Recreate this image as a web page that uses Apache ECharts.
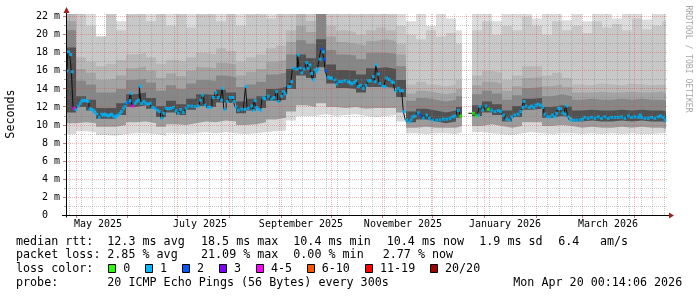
<!DOCTYPE html>
<html><head><meta charset="utf-8">
<script src="https://cdn.jsdelivr.net/npm/echarts@6/dist/echarts.min.js"></script>
<style>html,body{margin:0;padding:0;background:#fff}#c{width:697px;height:297px}</style>
</head><body><div id="c"></div>
<script>
// ---------- axis data (x = days since 2025-04-25 00:14, 360-day window) ----------
const X_MIN_DAY = 0, X_MAX_DAY = 360;
const Y_MAX_MS = 22.3;
const monthStartDay = [6, 37, 67, 98, 129, 159, 190, 220, 251, 282, 310, 341];
const monthLabelDay = [19.2, 80.4, 141, 202.2, 263.4, 325.2];
const monthLabelText = ['May 2025', 'July 2025', 'September 2025', 'November 2025', 'January 2026', 'March 2026'];
const firstSundayDay = 2;
const yGridValues = [1,2,3,4,5,6,7,8,9,10,11,12,13,14,15,16,17,18,19,20,21,22];

// ---------- median rtt (ms) and loss (of 20 pings) ----------
const medianDay = [0.6,1.5,2.8,3.7,4.8,6.0,7.4,8.4,9.4,10.4,11.4,12.4,13.2,14.4,15.4,16.4,17.4,18.4,20.0,21.4,22.4,23.4,24.4,25.4,26.4,27.4,28.4,29.4,30.4,31.4,32.4,33.4,34.4,35.4,36.4,37.4,38.4,39.0,40.0,41.4,42.4,43.4,44.6,45.4,46.8,48.0,49.2,50.4,52.0,53.4,54.8,56.0,57.4,58.8,60.0,61.4,62.8,64.4,66.0,67.4,68.8,70.4,72.0,73.4,75.4,77.4,79.4,80.8,82.0,83.4,85.4,86.7,88.4,90.0,91.4,93.4,94.0,95.4,96.8,98.4,100.0,100.8,102.0,103.4,105.4,107.4,108.0,109.4,111.4,112.4,113.4,114.4,115.4,116.8,118.4,119.4,121.4,123.4,124.8,126.4,127.4,129.4,130.4,131.4,133.4,134.4,135.4,136.4,138.4,139.4,140.4,141.4,142.8,144.4,145.4,146.4,147.4,148.4,149.4,150.4,151.4,152.4,153.4,154.4,155.1,156.0,157.4,158.4,159.4,161.4,162.4,164.0,165.6,167.4,169.4,170.4,171.4,172.8,174.0,175.4,176.8,178.4,180.0,181.4,182.8,184.4,185.4,186.4,187.4,188.4,190.0,191.4,192.4,194.0,195.4,196.4,198.0,199.4,200.7,202.0,202.8,204.4,206.0,207.0,208.0,209.4,211.4,212.8,214.4,216.4,218.0,220.0,222.4,224.4,226.4,228.4,230.4,232.0,233.4,235.4,236.8,238.5,244.4,246.0,247.4,248.4,250.0,252.0,253.4,255.4,257.4,259.4,260.8,262.4,264.4,266.0,267.4,269.4,271.4,272.8,274.0,274.8,276.0,278.0,279.4,280.8,282.0,283.4,284.8,286.0,287.4,288.8,290.4,292.0,293.4,294.4,295.4,296.7,298.0,299.4,300.4,301.4,302.8,304.5,306.4,308.4,310.0,311.4,313.4,315.4,317.4,319.4,321.4,323.4,325.4,327.4,329.4,331.4,333.4,335.4,337.4,339.4,341.4,343.4,344.4,345.4,347.4,349.4,351.4,353.4,355.4,356.8,358.4,359.4];
const medianMs = [16.0,18.1,17.8,15.9,11.85,11.7,12.1,12.4,12.65,12.75,12.7,12.7,12.6,11.8,11.7,11.65,11.4,11.2,10.85,11.2,11.1,11.2,11.1,11.0,11.1,11.2,11.0,10.85,11.0,11.1,11.3,11.5,11.85,12.1,12.5,12.5,12.7,13.5,12.1,12.4,12.6,12.75,14.3,12.4,12.6,12.4,12.3,12.4,11.95,11.85,11.65,11.5,10.75,11.3,11.85,11.8,11.85,11.95,11.6,11.3,11.7,11.4,11.85,12.1,12.1,12.05,12.1,12.75,13.3,12.2,11.95,11.95,13.05,13.6,13.05,12.75,14.05,11.75,12.6,13.05,13.05,12.6,12.0,11.65,11.75,11.75,14.25,11.85,12.1,11.6,12.7,11.95,11.75,11.65,13.0,12.9,13.2,12.85,13.05,13.7,12.6,13.2,13.7,13.45,14.25,14.25,14.8,16.3,16.2,17.75,16.3,15.8,16.2,16.9,16.3,16.65,15.7,15.0,16.1,15.9,16.2,17.3,18.4,18.1,17.3,16.0,15.3,15.2,15.2,15.0,14.55,14.8,14.8,14.9,14.8,14.7,14.55,14.7,14.9,14.25,14.4,14.05,14.4,14.9,14.9,15.35,14.8,16.65,15.65,14.6,14.3,14.25,15.2,15.05,14.8,14.7,13.8,14.05,13.8,13.8,11.5,10.55,10.35,10.6,10.9,11.0,11.35,11.1,10.75,11.1,10.75,10.55,10.55,10.55,10.65,10.65,10.7,10.9,11.0,11.6,11.0,null,11.3,11.0,11.1,12.05,11.65,12.1,11.75,11.65,11.5,11.6,11.5,11.1,10.65,10.55,10.9,11.1,11.2,11.5,11.95,12.6,12.1,11.95,12.1,11.95,12.2,12.3,12.2,11.95,11.2,10.9,10.9,11.1,10.9,11.3,11.85,11.8,11.35,11.2,12.1,10.9,10.55,10.55,10.55,10.55,10.65,10.85,10.75,10.85,10.75,10.9,10.75,10.9,10.75,10.85,10.85,10.85,10.9,10.75,11.0,10.85,10.9,10.85,11.1,10.85,10.75,10.75,10.85,10.75,10.9,11.0,10.85,10.55];
const medianLoss = [1,1,1,1,5,1,1,1,1,1,1,1,1,1,1,1,1,1,1,1,1,1,1,1,1,1,1,1,1,1,1,1,1,1,1,2,1,1,4,1,1,1,1,1,1,1,1,1,1,1,1,1,1,1,1,1,1,1,1,1,1,1,1,1,1,1,1,1,1,1,1,1,1,1,1,1,1,1,1,1,1,1,1,1,1,1,1,1,1,1,1,1,1,1,1,1,1,1,1,1,1,1,1,1,1,1,1,1,1,1,1,1,1,1,1,1,1,1,1,1,1,1,2,1,2,2,1,1,1,1,1,1,1,1,1,1,1,1,1,1,1,1,1,1,1,1,1,1,1,1,1,1,1,1,1,1,1,1,1,1,1,1,1,1,1,1,1,2,1,1,1,1,1,1,1,1,1,1,1,1,0,1,null,0,1,1,1,1,0,1,1,1,1,1,1,1,1,1,1,1,1,1,1,1,1,1,1,1,1,1,1,1,1,1,1,1,1,1,1,1,1,1,1,1,1,1,1,1,1,1,1,1,1,1,1,1,1,1,1,1,1,1,1,1,1,1,1,1,1,1,1,1,1,1,1,1];

// ---------- smoke (ping spread) band boundaries, ms, per column starting at smokeDay ----------
const smokeDay = [0,6,12,18,24,30,36,42,48,54,60,66,72,78,84,90,96,102,108,114,120,126,132,138,144,150,156,162,168,174,180,186,192,198,204,210,216,222,228,234,237.6,243.6,249.6,255.6,261.6,267.6,273.6,279.6,285.6,291.6,297.6,303.6,309.6,315.6,321.6,327.6,333.6,339.6,345.6,351.6,357.6];
const smokeLo  = [9.0,9.3,9.2,8.9,8.8,9.0,9.1,9.1,9.0,8.8, 9.1,9.0,9.1,9.2,9.1,9.2,9.1,9.0,9.1,9.2, 9.3,9.4,10.5,11.0,11.0,11.2,11.0,11.1,11.2,11.0, 10.9,11.0,11.1,10.4,9.1,9.0,9.1,9.1,9.0,9.2, 0, 9.2,9.1,9.0,8.9,9.1,9.2,9.1,9.0,9.1,9.1, 9.0,9.1,9.0,9.1,9.0,9.1,9.0,9.0,9.1,9.1];
const smokeL2  = [10.2,10.3,10.2,9.8,9.8,10.0,10.3,10.4,10.2,9.8, 10.1,10.0,10.2,10.4,10.3,10.5,10.4,10.0,10.1,10.3, 10.6,10.8,11.5,12.2,12.0,12.4,12.0,11.9,12.0,11.8, 11.9,11.9,11.9,11.4,9.7,9.8,9.7,9.7,9.7,9.9, 0, 9.9,10.1,9.9,9.7,9.9,10.3,10.3,9.9,10.0,9.9, 9.7,9.8,9.7,9.7,9.8,9.7,9.8,9.7,9.7,9.6];
const smokeCLo = [11.4,12.0,11.6,10.7,10.7,11.1,12.0,12.2,11.8,10.9, 11.4,11.1,11.7,12.1,12.0,12.5,12.4,11.3,11.6,11.9, 12.7,12.8,14.0,15.5,15.2,16.4,14.6,14.1,14.0,13.6, 14.2,14.2,14.1,13.1,10.3,10.6,10.4,10.2,10.4,10.8, 0, 11.0,11.4,11.1,10.4,10.9,11.7,11.8,10.8,11.0,10.8, 10.4,10.5,10.4,10.4,10.5,10.4,10.5,10.4,10.4,10.3];
const smokeCHi = [18.6,13.2,12.8,11.9,11.9,12.4,13.4,13.6,13.0,12.1, 12.7,12.3,12.9,13.4,13.3,13.9,13.6,12.6,12.9,13.2, 14.0,14.2,16.2,17.8,17.4,19.5,16.7,16.1,16.0,15.6, 16.3,16.4,16.2,15.0,11.5,11.8,11.6,11.4,11.6,12.0, 0, 12.2,12.6,12.3,11.6,12.1,12.9,13.0,12.0,12.2,12.0, 11.6,11.7,11.6,11.6,11.7,11.6,11.7,11.6,11.6,11.5];
const smokeU2  = [20.5,14.9,14.5,13.6,13.6,14.0,15.0,15.1,14.7,13.8, 14.4,14.0,14.6,15.0,14.9,15.5,15.3,14.2,14.5,14.8, 15.6,15.8,17.8,19.4,19.0,22.3,18.3,17.8,17.7,17.3, 18.0,18.0,17.9,16.5,12.7,13.0,12.8,12.6,12.8,13.2, 0, 13.4,13.8,13.5,12.8,13.3,14.1,14.2,13.2,13.4,13.2, 12.8,12.9,12.8,12.8,12.9,12.8,12.9,12.8,12.8,12.7];
const smokeU25 = [21.5,16.2,15.8,15.0,15.1,15.5,16.3,16.5,16.0,15.2, 15.7,15.4,16.0,16.4,16.3,16.9,16.7,15.5,15.9,16.2, 17.0,17.2,19.2,21.0,20.3,22.3,19.8,19.2,19.0,18.8, 19.3,19.5,19.3,17.8,13.5,13.8,13.6,13.4,13.6,14.0, 0, 14.4,14.8,14.6,13.8,14.3,15.2,15.3,14.3,14.5,14.2, 13.6,13.6,13.7,13.6,13.6,13.7,13.6,13.6,13.7,13.5];
const smokeU3  = [22.3,17.5,17.0,16.5,16.8,17.2,17.8,18.0,17.5,16.8, 17.2,17.0,17.5,18.0,17.8,18.5,18.2,17.0,17.5,17.8, 18.5,18.8,20.5,22.3,21.5,22.3,21.0,20.5,20.3,20.0, 20.5,20.8,20.5,19.0,14.5,14.8,14.5,14.3,14.5,15.0, 0, 15.5,16.0,15.8,15.0,15.5,16.5,16.5,15.5,15.8,15.2, 14.5,14.4,14.6,14.5,14.4,14.6,14.5,14.4,14.5,14.4];
const smokeTop = [22.3,22.3,21.0,19.8,22.3,20.5,22.3,22.3,21.5,22.3, 21.0,22.3,20.8,22.3,22.3,21.5,22.3,21.0,22.3,22.3, 21.8,22.3,22.3,22.3,22.3,22.3,22.3,22.3,22.3,22.3, 22.3,22.3,22.3,21.0,20.0,19.5,20.5,19.8,20.2,19.0, 0, 20.5,21.5,20.0,21.0,20.5,22.0,21.0,20.0,21.5,20.5, 21.0,20.2,21.5,20.8,21.2,20.5,21.8,20.6,21.0,21.5];
const smokeCap = [22.3,22.3,22.3,19.8,22.3,21.5,22.3,22.3,22.3,22.3, 22.3,22.3,22.3,22.3,22.3,22.3,22.3,22.3,22.3,22.3, 22.3,22.3,22.3,22.3,22.3,22.3,22.3,22.3,22.3,22.3, 22.3,22.3,22.3,22.3,21.5,22.3,21.0,22.3,21.8,20.5, 0, 22.3,22.3,21.5,22.3,22.3,22.3,21.8,22.3,22.3,21.6, 22.3,21.5,22.3,22.3,21.8,22.3,22.3,21.7,22.3,22.3];

// ---------- legend texts ----------
const lossBuckets = [
  {max: 0, label: '0', color: '#26ff00'},
  {max: 1, label: '1', color: '#00b8ff'},
  {max: 2, label: '2', color: '#0059ff'},
  {max: 3, label: '3', color: '#7e00ff'},
  {max: 5, label: '4-5', color: '#ff00ff'},
  {max: 10, label: '6-10', color: '#ff5500'},
  {max: 19, label: '11-19', color: '#ff0000'},
  {max: 20, label: '20/20', color: '#a10000'}
];
const rttRow = ['median rtt:', '12.3 ms avg', '18.5 ms max', '10.4 ms min', '10.4 ms now', '1.9 ms sd', '6.4', 'am/s'];
const lossRow = ['packet loss:', '2.85 % avg', '21.09 % max', '0.00 % min', '2.77 % now'];
const lossColorTitle = 'loss color:';
const probeRow = ['probe:', '20 ICMP Echo Pings (56 Bytes) every 300s', 'Mon Apr 20 00:14:06 2026'];
const yAxisTitle = 'Seconds';
const watermark = 'RRDTOOL / TOBI OETIKER';

// ---------- build chart ----------
const chart = echarts.init(document.getElementById('c'), null, {renderer: 'canvas', width: 697, height: 297});
const MONO = '"DejaVu Sans Mono", "Liberation Mono", monospace';

function lossColor(n) {
  for (const b of lossBuckets) if (n <= b.max) return b.color;
  return lossBuckets[lossBuckets.length - 1].color;
}
function stepData(vals) {
  const d = smokeDay.map((x, i) => [x, vals[i]]);
  d.push([X_MAX_DAY, vals[vals.length - 1]]);
  return d;
}
const smokeLayers = [
  [smokeCap, '#dcdcdc'],
  [smokeTop, '#c8c8c8'],
  [smokeU3, '#b7b7b7'],
  [smokeU25, '#a3a3a3'],
  [smokeU2, '#878787'],
  [smokeCHi, '#515151'],
  [smokeCLo, '#9c9c9c'],
  [smokeL2, '#d8d8d8'],
  [smokeLo, '#ffffff']
];
const series = smokeLayers.map(([vals, color]) => ({
  type: 'line', step: 'end', data: stepData(vals), symbol: 'none', showSymbol: false,
  lineStyle: {width: 0, opacity: 0}, areaStyle: {color: color, opacity: 1},
  silent: true, animation: false, z: 2
}));
series.push({
  type: 'line', step: 'middle', data: medianDay.map((d, i) => [d, medianMs[i]]),
  symbol: 'none', showSymbol: false, connectNulls: false,
  lineStyle: {color: '#111', width: 1}, silent: true, animation: false, z: 4
});
series.push({
  type: 'scatter', symbol: 'rect', symbolSize: [3, 3], silent: true, animation: false, z: 5,
  data: medianDay.map((d, i) => medianMs[i] == null ? null :
    {value: [d, medianMs[i]], itemStyle: {color: lossColor(medianLoss[i])}}).filter(Boolean)
});

const option = {
  animation: false,
  backgroundColor: '#fff',
  grid: {left: 66, top: 14, width: 600, height: 201.3, containLabel: false, outerBoundsMode: 'none'},
  xAxis: {
    type: 'value', min: X_MIN_DAY, max: X_MAX_DAY,
    axisLine: {show: false}, splitLine: {show: false},
    axisTick: {show: false},
    axisLabel: {
      customValues: monthLabelDay, margin: 4, color: '#000', fontFamily: MONO, fontSize: 10,
      formatter: v => { const i = monthLabelDay.findIndex(m => Math.abs(m - v) < 1e-6); return i >= 0 ? monthLabelText[i] : ''; }
    }
  },
  yAxis: {
    type: 'value', min: 0, max: Y_MAX_MS, interval: 2,
    axisLine: {show: false}, splitLine: {show: false}, axisTick: {show: false},
    axisLabel: {
      margin: 6, color: '#000', fontFamily: MONO, fontSize: 10, showMaxLabel: false,
      formatter: v => { const r = Math.round(v); if (Math.abs(v - r) > 1e-6 || r % 2) return ''; return r === 0 ? '0  ' : r + ' m'; }
    }
  },
  series: series
};
chart.setOption(option);

// ---------- grid lines, axes and texts (positions from the chart's own scales) ----------
const els = [];
const toPx = (d, v) => chart.convertToPixel({gridIndex: 0}, [d, v]);
const pLeft = toPx(X_MIN_DAY, 0), pRight = toPx(X_MAX_DAY, Y_MAX_MS);
const xL = Math.floor(pLeft[0]), xR = Math.floor(pRight[0]), yB = Math.floor(pLeft[1]), yT = Math.floor(pRight[1]);
const MINOR = 'rgba(120,120,120,0.4)', MAJOR = 'rgba(230,60,60,0.38)';
function vline(d, color) {
  const x = Math.floor(toPx(d, 0)[0]) + 0.5;
  els.push({type: 'line', z: 3, silent: true, shape: {x1: x, y1: yT, x2: x, y2: yB}, style: {stroke: color, lineWidth: 1, lineDash: [1, 1]}});
}
for (let d = firstSundayDay; d < X_MAX_DAY; d += 7) if (!monthStartDay.includes(d)) vline(d, MINOR);
monthStartDay.forEach(d => vline(d, MAJOR));
yGridValues.forEach(v => {
  const y = Math.floor(toPx(0, v)[1]) + 0.5;
  els.push({type: 'line', z: 3, silent: true, shape: {x1: xL, y1: y, x2: xR + 1, y2: y}, style: {stroke: v % 2 ? MINOR : MAJOR, lineWidth: 1, lineDash: [1, 1]}});
  els.push({type: 'line', z: 6, silent: true, shape: {x1: xL - (v % 2 ? 2 : 3), y1: y, x2: xL, y2: y}, style: {stroke: v % 2 ? '#aaa' : '#c77', lineWidth: 1}});
});
monthStartDay.forEach(d => {
  const x = Math.floor(toPx(d, 0)[0]) + 0.5;
  els.push({type: 'line', z: 6, silent: true, shape: {x1: x, y1: yB + 1, x2: x, y2: yB + 3}, style: {stroke: '#c77', lineWidth: 1}});
});
// axes + arrows
const ax = xL + 0.5, ay = yB + 0.5;
els.push({type: 'line', z: 6, silent: true, shape: {x1: ax, y1: ay + 2, x2: ax, y2: yT - 5}, style: {stroke: '#000', lineWidth: 1}});
els.push({type: 'line', z: 6, silent: true, shape: {x1: xL - 4, y1: ay, x2: xR + 4, y2: ay}, style: {stroke: '#000', lineWidth: 1}});
els.push({type: 'polygon', z: 6, silent: true, shape: {points: [[ax - 3, yT - 1], [ax + 3, yT - 1], [ax, yT - 7]]}, style: {fill: '#a02020'}});
els.push({type: 'polygon', z: 6, silent: true, shape: {points: [[xR + 3, ay - 3], [xR + 3, ay + 3], [xR + 8, ay]]}, style: {fill: '#a02020'}});

// texts
function txt(s, x, y, extra) {
  els.push(Object.assign({type: 'text', z: 6, silent: true, x: x, y: y,
    style: Object.assign({text: s, font: '11.7px ' + MONO, fill: '#000', align: 'left', verticalAlign: 'middle', textAlign: 'left', textVerticalAlign: 'middle'}, extra && extra.style || {})},
    extra && extra.el || {}));
}
txt(yAxisTitle, 11, 114, {el: {rotation: Math.PI / 2}, style: {align: 'center', textAlign: 'center'}});
txt(watermark, 688.5, 59, {el: {rotation: -Math.PI / 2}, style: {align: 'center', textAlign: 'center', font: '8.1px ' + MONO, fill: '#a6a6a6'}});
const rttX = [16, 107.3, 201, 293.3, 386.7, 479.3, 558.3, 600];
rttRow.forEach((s, i) => txt(s, rttX[i], 241.5));
const lossX = [16, 107.3, 201, 293.3, 382.7];
lossRow.forEach((s, i) => txt(s, lossX[i], 255.3));
txt(lossColorTitle, 16, 269.3);
const boxX = [108.5, 145.5, 182.5, 219.5, 256.5, 307.5, 365.5, 430.5];
const boxLabelX = [123.3, 160, 197, 234, 271, 321.7, 380, 445];
lossBuckets.forEach((b, i) => {
  els.push({type: 'rect', z: 6, silent: true, shape: {x: boxX[i], y: 264.5, width: 7, height: 8}, style: {fill: b.color, stroke: '#000', lineWidth: 1}});
  txt(b.label, boxLabelX[i], 269.3);
});
const probeX = [16, 107.3, 513.3];
probeRow.forEach((s, i) => txt(s, probeX[i], 283.3));

chart.setOption({graphic: [{elements: els}]});
</script></body></html>
